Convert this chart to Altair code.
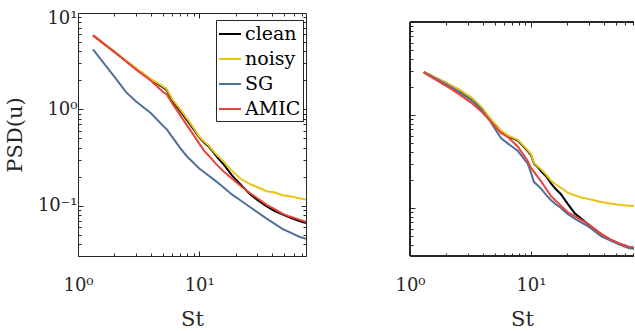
import altair as alt
import pandas as pd

SERIES = ["clean", "noisy", "SG", "AMIC"]
COLORS = ["#000000", "#E8C417", "#50709A", "#E8433A"]

# ---- left panel data ----
st_left = [1.33, 2.0, 2.5, 3.0, 4.0, 5.0, 5.4, 6.0, 7.0, 8.0, 9.0, 10.0, 11.0, 12.0, 12.8,
           14.0, 16.0, 18.7, 22.0, 26.0, 30.0, 36.0, 42.0, 48.5, 56.0, 67.0, 76.0]
clean_left = [5.86, 3.95, 3.16, 2.65, 2.02, 1.70, 1.58, 1.22, 0.95, 0.76, 0.62, 0.51, 0.45, 0.41, 0.37,
              0.32, 0.265, 0.205, 0.165, 0.133, 0.115, 0.098, 0.088, 0.081, 0.075, 0.069, 0.066]
noisy_left = [5.86, 3.97, 3.18, 2.68, 2.06, 1.74, 1.62, 1.27, 0.99, 0.79, 0.64, 0.52, 0.46, 0.42, 0.38,
              0.335, 0.285, 0.228, 0.19, 0.168, 0.156, 0.141, 0.137, 0.128, 0.125, 0.119, 0.116]
sg_left = [4.19, 2.17, 1.50, 1.21, 0.91, 0.68, 0.62, 0.515, 0.394, 0.32, 0.277, 0.243, 0.222, 0.204, 0.192,
           0.176, 0.153, 0.13, 0.113, 0.0975, 0.086, 0.0732, 0.0647, 0.0575, 0.0527, 0.0475, 0.0453]
amic_left = [5.86, 3.93, 3.14, 2.60, 1.98, 1.52, 1.43, 1.15, 0.86, 0.67, 0.54, 0.44, 0.37, 0.33, 0.30,
             0.265, 0.225, 0.19, 0.16, 0.136, 0.12, 0.102, 0.092, 0.0826, 0.077, 0.0715, 0.068]

# ---- right panel data ----
st_right = [1.3, 2.0, 2.54, 3.2, 3.86, 4.6, 5.65, 6.5, 7.8, 9.4, 10.0, 10.6, 11.4, 12.1, 13.5,
            14.6, 16.0, 17.7, 20.2, 23.0, 26.0, 30.0, 38.0, 45.0, 55.0, 65.0, 76.0]
clean_right = [2.9, 2.2, 1.86, 1.53, 1.22, 0.90, 0.67, 0.59, 0.53, 0.41, 0.37, 0.30, 0.275, 0.25, 0.215,
               0.185, 0.16, 0.141, 0.11, 0.088, 0.077, 0.066, 0.0525, 0.046, 0.041, 0.038, 0.037]
noisy_right = [2.92, 2.22, 1.88, 1.55, 1.24, 0.92, 0.68, 0.60, 0.54, 0.42, 0.38, 0.305, 0.28, 0.262, 0.225,
               0.198, 0.18, 0.165, 0.146, 0.137, 0.13, 0.125, 0.116, 0.112, 0.108, 0.106, 0.104]
sg_right = [2.9, 2.14, 1.76, 1.45, 1.16, 0.86, 0.566, 0.49, 0.41, 0.30, 0.24, 0.19, 0.175, 0.162, 0.136,
            0.122, 0.11, 0.10, 0.086, 0.077, 0.07, 0.063, 0.05, 0.045, 0.04, 0.037, 0.036]
amic_right = [2.86, 2.05, 1.68, 1.36, 1.10, 0.87, 0.64, 0.573, 0.457, 0.32, 0.27, 0.245, 0.215, 0.195, 0.157,
              0.135, 0.12, 0.106, 0.09, 0.0818, 0.0747, 0.067, 0.0525, 0.046, 0.041, 0.038, 0.037]

X_DOMAIN_LEFT = [1, 76]
X_DOMAIN_RIGHT = [1, 71.1]        # right panel is cut off by the page edge
Y_DOMAIN_LEFT = [0.03, 10]
Y_DOMAIN_RIGHT = [0.0305, 12.5]   # right box starts lower; its top edge is at 10
X_MAJOR = [1, 10]
X_MINOR = [2, 3, 4, 5, 6, 7, 8, 9, 20, 30, 40, 50, 60, 70]
Y_MAJOR = [0.1, 1, 10]
Y_MINOR = [0.03, 0.04, 0.05, 0.06, 0.07, 0.08, 0.09, 0.2, 0.3, 0.4, 0.5, 0.6, 0.7, 0.8, 0.9,
           2, 3, 4, 5, 6, 7, 8, 9]

FONT = "DejaVu Serif"
INK = "#262626"
LABEL_EXPR = ("'10' + (round(log(datum.value)/LN10) == 1 ? '\u00b9' : "
              "(round(log(datum.value)/LN10) == 0 ? '\u2070' : '\u207b\u00b9'))")


def make_df(st, vals):
    rows = []
    for name, v in zip(SERIES, vals):
        for x, y in zip(st, v):
            rows.append({"St": x, "PSD": y, "series": name})
    return pd.DataFrame(rows)


def ax(orient, values, size, labels=False, title=None, extra=0, **kw):
    return alt.Axis(orient=orient, values=values, tickSize=size, offset=-(size + extra), domain=False,
                    grid=False, labels=labels, title=title, ticks=True, tickColor=INK,
                    tickWidth=1, **kw)


def panel(df, xdom, ydom, width, ylabels, legend, top_gap):
    xs = alt.Scale(type="log", domain=xdom, nice=False, zero=False)
    ys = alt.Scale(type="log", domain=ydom, nice=False, zero=False)
    base = alt.Chart(df)
    if legend:
        leg = alt.Legend(orient="none", legendX=138, legendY=7, title=None, symbolType="stroke",
                         symbolSize=484, symbolStrokeWidth=2, labelFont=FONT, labelFontSize=19,
                         labelColor="black", strokeColor=INK, fillColor="white", padding=2,
                         rowPadding=3, labelOffset=3, cornerRadius=0)
    else:
        leg = None
    x_main = ax("bottom", X_MAJOR, 5, labels=True, title="St", labelExpr=LABEL_EXPR,
                labelPadding=20, titlePadding=14, labelFlush=False)
    if ylabels:
        y_main = ax("left", Y_MAJOR, 5, labels=True, title="PSD(u)", labelExpr=LABEL_EXPR,
                    labelPadding=1, titlePadding=12, labelFlush=False,
                    labelOffset={"condition": {"test": "datum.value >= 5", "value": 5}, "value": 0})
    else:
        y_main = ax("left", Y_MAJOR, 5)
    lines = base.mark_line(strokeWidth=2, clip=True).encode(
        x=alt.X("St:Q", scale=xs, axis=x_main),
        y=alt.Y("PSD:Q", scale=ys, axis=y_main),
        color=alt.Color("series:N", scale=alt.Scale(domain=SERIES, range=COLORS), sort=SERIES,
                        legend=leg),
    )
    ghost = base.mark_line(opacity=0, clip=True)
    l2 = ghost.encode(x=alt.X("St:Q", scale=xs, axis=ax("bottom", X_MINOR, 3)),
                      y=alt.Y("PSD:Q", scale=ys, axis=ax("left", Y_MINOR, 3)))
    right_major = None if top_gap else ax("right", Y_MAJOR, 5)
    right_minor = None if top_gap else ax("right", Y_MINOR, 3)
    l3 = ghost.encode(x=alt.X("St:Q", scale=xs, axis=ax("top", X_MAJOR, 5, extra=top_gap)),
                      y=alt.Y("PSD:Q", scale=ys, axis=right_major))
    l4 = ghost.encode(x=alt.X("St:Q", scale=xs, axis=ax("top", X_MINOR, 3, extra=top_gap)),
                      y=alt.Y("PSD:Q", scale=ys, axis=right_minor))
    layers = [lines, l2, l3, l4]
    props = dict(width=width, height=243)
    if top_gap:
        # box drawn through the scales: top edge at PSD = 10; right edge lies beyond the page
        frame = alt.Chart(df).mark_rule(color=INK, strokeWidth=1)

        def dx(v):
            return alt.datum(v, type="quantitative", scale=xs, axis=None)

        def dy(v):
            return alt.datum(v, type="quantitative", scale=ys, axis=None)

        layers += [
            frame.encode(x=dx(xdom[0]), x2=alt.datum(xdom[1]), y=dy(10)),
            frame.encode(x=dx(xdom[0]), x2=alt.datum(xdom[1]), y=dy(ydom[0])),
            frame.encode(x=dx(xdom[0]), y=dy(10), y2=alt.datum(ydom[0])),
        ]
        props["view"] = alt.ViewBackground(stroke=None)
    return alt.layer(*layers).resolve_axis(x="independent", y="independent").properties(**props)


left = panel(make_df(st_left, [clean_left, noisy_left, sg_left, amic_left]),
             X_DOMAIN_LEFT, Y_DOMAIN_LEFT, 228, True, True, 0)
right = panel(make_df(st_right, [clean_right, noisy_right, sg_right, amic_right]),
              X_DOMAIN_RIGHT, Y_DOMAIN_RIGHT, 224, False, False, 9)

chart = alt.hconcat(left, right, spacing=87).resolve_scale(color="independent").properties(
    padding={"left": 3, "top": 8, "right": 0, "bottom": 0}
).configure(font=FONT).configure_view(stroke=INK, strokeWidth=1).configure_axis(
    labelFont=FONT, labelFontSize=18, labelColor=INK, titleFont=FONT, titleFontSize=21,
    titleFontWeight="normal", titleColor=INK
).configure_legend(strokeWidth=1)

chart.save("out.html", embed_options={"renderer": "svg", "actions": False})
